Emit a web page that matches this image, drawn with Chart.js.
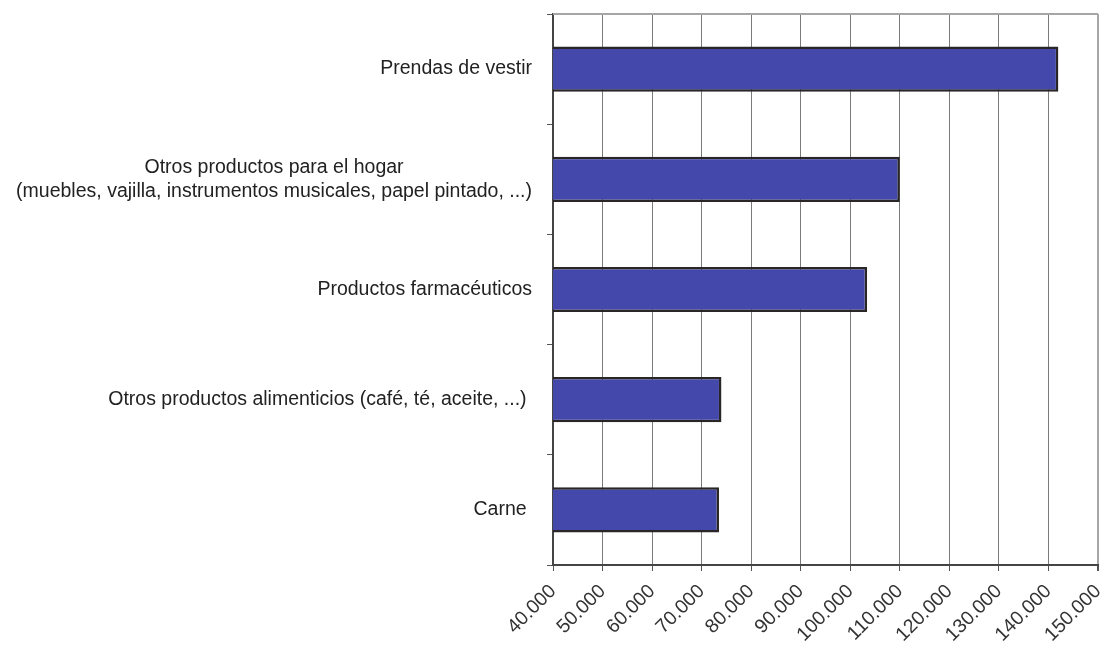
<!DOCTYPE html>
<html>
<head>
<meta charset="utf-8">
<script src="https://cdn.jsdelivr.net/npm/chart.js@4/dist/chart.umd.min.js"></script>
<style>
  html, body { margin: 0; padding: 0; background: #fff; }
  #wrap { width: 1102px; height: 646px; }
</style>
</head>
<body>
<div id="wrap"><canvas id="myChart" width="1102" height="646"></canvas></div>
<script>
const categories = [
  "Prendas de vestir",
  ["Otros productos para el hogar", "(muebles, vajilla, instrumentos musicales, papel pintado, ...)"],
  "Productos farmacéuticos",
  "Otros productos alimenticios (café, té, aceite, ...) ",
  "Carne "
];
const values = [142000, 110000, 103400, 74000, 73500];
const tickLabels = ["40.000", "50.000", "60.000", "70.000", "80.000", "90.000",
  "100.000", "110.000", "120.000", "130.000", "140.000", "150.000"];

const labelFont = "19.5px 'Liberation Sans', Arial, sans-serif";

// y labels: right aligned block, lines centered inside the block
const yLabels = {
  id: "yLabels",
  afterDraw(chart) {
    const c = chart.ctx;
    const y = chart.scales.y;
    const right = y.right - 21;
    c.save();
    c.font = labelFont;
    c.fillStyle = "#222";
    c.textAlign = "center";
    c.textBaseline = "middle";
    categories.forEach(function (lab, i) {
      let lines = Array.isArray(lab) ? lab : [lab];
      let w = 0;
      lines.forEach(function (l) { w = Math.max(w, c.measureText(l).width); });
      let cx = right - w / 2;
      let cy = y.getPixelForValue(i);
      let lh = 24;
      lines.forEach(function (l, k) {
        c.fillText(l, cx, cy + (k - (lines.length - 1) / 2) * lh);
      });
    });
    c.restore();
  }
};

// light frame on top (right one is the last grid line)
const frame = {
  id: "frame",
  beforeDatasetsDraw(chart) {
    const a = chart.chartArea;
    const c = chart.ctx;
    c.save();
    c.strokeStyle = "#a6a6a6";
    c.lineWidth = 2;
    c.beginPath();
    c.moveTo(a.left, a.top);
    c.lineTo(a.right, a.top);
    c.stroke();
    c.restore();
  }
};

const ctx = document.getElementById("myChart");
new Chart(ctx, {
  type: "bar",
  data: {
    labels: categories,
    datasets: [
      {
        data: values,
        backgroundColor: "#4348aa",
        borderColor: "#2a2628",
        borderWidth: 2.5,
        borderSkipped: false,
        categoryPercentage: 1,
        barPercentage: 0.41,
      },
    ],
  },
  options: {
    indexAxis: "y",
    responsive: false,
    animation: false,
    layout: { padding: { top: 14, right: 4, left: 0, bottom: 0 } },
    plugins: { legend: { display: false }, tooltip: { enabled: false } },
    scales: {
      x: {
        min: 40000,
        max: 150000,
        afterFit: function (s) {
          s.height = 81;
          s.paddingLeft = 0;
          s.paddingRight = 0;
        },
        ticks: {
          stepSize: 10000,
          autoSkip: false,
          minRotation: 45,
          maxRotation: 45,
          padding: 9,
          color: "#333",
          font: { family: "'Liberation Sans', Arial, sans-serif", size: 19.5 },
          callback: function (v, i) { return tickLabels[i]; },
        },
        grid: {
          color: function (c) { return c.index === tickLabels.length - 1 ? "#a6a6a6" : "#7a7a7a"; },
          lineWidth: function (c) { return c.index === tickLabels.length - 1 ? 2 : 1; },
          tickColor: "#555",
          tickLength: 6,
        },
        border: { color: "#444", width: 2 },
      },
      y: {
        afterFit: function (s) {
          s.width = 553;
          s.paddingTop = 0;
          s.paddingBottom = 0;
        },
        ticks: { display: false },
        grid: {
          offset: true,
          drawOnChartArea: false,
          drawTicks: true,
          tickLength: 6,
          tickColor: "#555",
        },
        border: { color: "#444", width: 2 },
      },
    },
  },
  plugins: [frame, yLabels],
});
</script>
</body>
</html>
